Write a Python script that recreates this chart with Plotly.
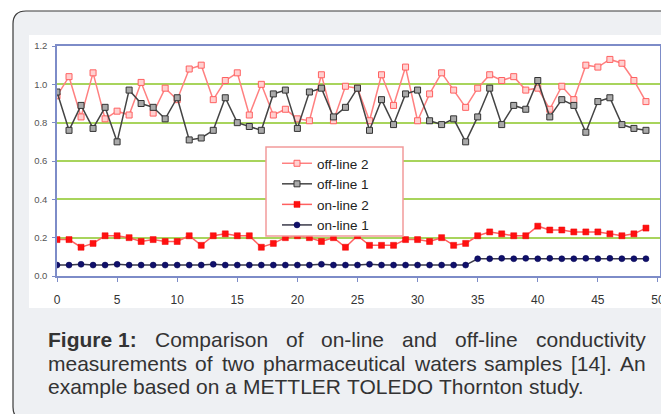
import plotly.graph_objects as go

# ---------------- data ----------------
samples = list(range(50))
x_ticks = [0, 5, 10, 15, 20, 25, 30, 35, 40, 45, 50]
y_ticks = [0.0, 0.2, 0.4, 0.6, 0.8, 1.0, 1.2]

off_line_2 = [0.94, 1.04, 0.83, 1.06, 0.82, 0.86, 0.84, 1.01, 0.85, 0.98,
              0.92, 1.08, 1.10, 0.92, 1.02, 1.06, 0.84, 1.00, 0.84, 0.87,
              0.82, 0.81, 1.05, 0.81, 0.99, 0.98, 0.81, 1.05, 0.89, 1.09,
              0.81, 0.95, 1.06, 0.97, 0.88, 0.98, 1.05, 1.02, 1.04, 0.97,
              0.98, 0.87, 0.99, 0.92, 1.10, 1.09, 1.13, 1.11, 1.02, 0.91]
off_line_1 = [0.96, 0.76, 0.89, 0.77, 0.88, 0.70, 0.97, 0.90, 0.88, 0.82,
              0.93, 0.71, 0.72, 0.76, 0.93, 0.80, 0.78, 0.76, 0.95, 0.97,
              0.77, 0.96, 0.98, 0.83, 0.88, 0.98, 0.76, 0.92, 0.79, 0.95,
              0.97, 0.81, 0.79, 0.82, 0.70, 0.83, 0.98, 0.79, 0.89, 0.87,
              1.02, 0.83, 0.92, 0.89, 0.75, 0.91, 0.93, 0.79, 0.77, 0.76]
on_line_2 = [0.19, 0.19, 0.15, 0.17, 0.21, 0.21, 0.20, 0.18, 0.19, 0.18,
             0.18, 0.21, 0.16, 0.21, 0.22, 0.21, 0.21, 0.15, 0.17, 0.20,
             0.21, 0.20, 0.18, 0.20, 0.15, 0.21, 0.16, 0.16, 0.16, 0.19,
             0.19, 0.18, 0.20, 0.16, 0.17, 0.21, 0.23, 0.22, 0.21, 0.21,
             0.26, 0.24, 0.24, 0.23, 0.23, 0.23, 0.22, 0.21, 0.22, 0.25]
on_line_1 = [0.057, 0.057, 0.061, 0.057, 0.057, 0.061, 0.057, 0.057, 0.057, 0.057,
             0.057, 0.057, 0.057, 0.061, 0.057, 0.057, 0.057, 0.057, 0.057, 0.057,
             0.057, 0.057, 0.061, 0.057, 0.057, 0.057, 0.061, 0.057, 0.057, 0.057,
             0.057, 0.057, 0.057, 0.057, 0.057, 0.090, 0.090, 0.092, 0.090, 0.092,
             0.090, 0.092, 0.090, 0.090, 0.092, 0.090, 0.092, 0.090, 0.090, 0.090]

series_names = ["off-line 2", "off-line 1", "on-line 2", "on-line 1"]

caption_lines = [
    ["<b>Figure 1:</b>", "Comparison", "of", "on-line", "and", "off-line", "conductivity"],
    ["measurements", "of", "two", "pharmaceutical", "waters", "samples", "[14].", "An"],
    ["example", "based", "on", "a", "METTLER", "TOLEDO", "Thornton", "study."],
]

# ---------------- layout helpers ----------------
OFF = 8                      # the page body margin of the browser
W, H = 669 - OFF, 414 - OFF
PL, PR, PT, PB = 57, 660, 46, 276   # plot area in window pixels


def px(x):
    return (x - PL) / (PR - PL)


def py(y):
    return (PB - y) / (PB - PT)


def rounded_path(x0, y0, x1, y1, r):
    pts = [
        ("M", [(x0 + r, y0)]), ("L", [(x1 - r, y0)]), ("Q", [(x1, y0), (x1, y0 + r)]),
        ("L", [(x1, y1 - r)]), ("Q", [(x1, y1), (x1 - r, y1)]),
        ("L", [(x0 + r, y1)]), ("Q", [(x0, y1), (x0, y1 - r)]),
        ("L", [(x0, y0 + r)]), ("Q", [(x0, y0), (x0 + r, y0)]),
    ]
    s = ""
    for cmd, ps in pts:
        s += cmd + " ".join(f"{px(a):.5f},{py(b):.5f}" for a, b in ps)
    return s + " Z"


# Arial / Liberation Sans advance widths (1/1000 em)
REG = dict(zip("abcdefghijklmnopqrstuvwxyz",
               [556, 556, 500, 556, 556, 278, 556, 556, 222, 222, 500, 222, 833,
                556, 556, 556, 556, 333, 500, 278, 556, 500, 722, 500, 500, 500]))
REG.update(dict(zip("ABCDEFGHIJKLMNOPQRSTUVWXYZ",
                    [667, 667, 722, 722, 667, 611, 778, 722, 278, 500, 667, 556, 833,
                     722, 778, 667, 778, 722, 667, 611, 722, 667, 944, 667, 667, 611])))
REG.update({c: 556 for c in "0123456789"})
REG.update({" ": 278, ".": 278, ":": 278, "-": 333, "[": 278, "]": 278, ",": 278})
BOLD = {"F": 611, "i": 278, "g": 611, "u": 611, "r": 389, "e": 556, " ": 278, "1": 556, ":": 333}


def text_w(word, size):
    if word.startswith("<b>"):
        w = sum(BOLD.get(c, 600) for c in word[3:-4])
    else:
        w = sum(REG.get(c, 556) for c in word)
    return w * size / 1000.0


CAP_SIZE = 21
CAP_LEFT, CAP_RIGHT = 47, 645
CAP_Y = [339, 363, 386]
FONT = "Arial, Liberation Sans, sans-serif"

# ---------------- figure ----------------
fig = go.Figure()

fig.add_trace(go.Scatter(
    x=samples, y=off_line_2, name=series_names[0], mode="lines+markers",
    line=dict(color="#ff8080", width=1.5),
    marker=dict(symbol="square", size=6, color="#ffd0d0", line=dict(color="#ff6060", width=1)),
))
fig.add_trace(go.Scatter(
    x=samples, y=off_line_1, name=series_names[1], mode="lines+markers",
    line=dict(color="#444444", width=1.5),
    marker=dict(symbol="square", size=6, color="#aaaaaa", line=dict(color="#333333", width=1)),
))
fig.add_trace(go.Scatter(
    x=samples, y=on_line_2, name=series_names[2], mode="lines+markers",
    line=dict(color="#ff6060", width=1.5),
    marker=dict(symbol="square", size=6, color="#ff1010", line=dict(color="#ee0000", width=0.5)),
))
fig.add_trace(go.Scatter(
    x=samples, y=on_line_1, name=series_names[3], mode="lines+markers",
    line=dict(color="#3a3a4a", width=1.5),
    marker=dict(symbol="circle", size=6, color="#10106a", line=dict(color="#000050", width=0.5)),
))

shapes = [
    # card with rounded corners
    dict(type="path", xref="paper", yref="paper", layer="below",
         path=rounded_path(13, 11, 677, 420, 13),
         fillcolor="#eef0f3", line=dict(color="#3a3a3a", width=1.2)),
    # white chart picture
    dict(type="rect", xref="paper", yref="paper", layer="below",
         x0=px(29), x1=px(663), y0=py(35), y1=py(308),
         fillcolor="white", line=dict(width=0)),
    # legend box
    dict(type="rect", xref="paper", yref="paper", layer="above",
         x0=px(266), x1=px(403), y0=py(147), y1=py(236),
         fillcolor="white", line=dict(color="#f29a9a", width=1.5)),
]

annotations = []
for li, words in enumerate(caption_lines):
    widths = [text_w(w, CAP_SIZE) for w in words]
    if li < 2:
        gap = (CAP_RIGHT - CAP_LEFT - sum(widths)) / (len(words) - 1)
    else:
        gap = 278 * CAP_SIZE / 1000.0
    xcur = CAP_LEFT
    for w, wd in zip(words, widths):
        annotations.append(dict(
            xref="paper", yref="paper", x=px(xcur), y=py(CAP_Y[li]),
            xanchor="left", yanchor="middle", text=w, showarrow=False,
            borderpad=0, font=dict(family=FONT, size=CAP_SIZE, color="#333333"),
        ))
        xcur += wd + gap

fig.update_layout(
    width=W, height=H, autosize=False,
    margin=dict(l=PL - OFF, r=W - (PR - OFF), t=PT - OFF, b=H - (PB - OFF), pad=0,
                autoexpand=False),
    paper_bgcolor="white", plot_bgcolor="white",
    font=dict(family=FONT, color="#333333"),
    showlegend=True,
    legend=dict(x=px(277), y=py(148), xanchor="left", yanchor="top",
                bgcolor="rgba(0,0,0,0)", borderwidth=0,
                font=dict(family=FONT, size=13.5, color="#222222"),
                itemwidth=30, tracegroupgap=0),
    shapes=shapes, annotations=annotations,
)

fig.update_xaxes(
    range=[0, 50.17], tickvals=x_ticks, ticktext=[str(v) for v in x_ticks],
    showgrid=False, zeroline=False, showline=True, mirror=True, automargin=False,
    linecolor="#7d8cc8", linewidth=1.5, ticks="outside", ticklen=4,
    tickcolor="#7d8cc8", tickfont=dict(family=FONT, size=12, color="#333333"),
    ticklabelstandoff=8,
)
fig.update_yaxes(
    range=[0, 1.2], tickvals=y_ticks, tickformat=".1f", automargin=False,
    showgrid=True, gridcolor="#a8d45c", gridwidth=1.5, zeroline=False,
    showline=True, mirror=True, linecolor="#7d8cc8", linewidth=1.5,
    ticks="outside", ticklen=3, tickcolor="#7d8cc8",
    tickfont=dict(family=FONT, size=9.5, color="#555555"),
    ticklabelstandoff=3,
)

fig.write_html("out.html", config={"responsive": False})
